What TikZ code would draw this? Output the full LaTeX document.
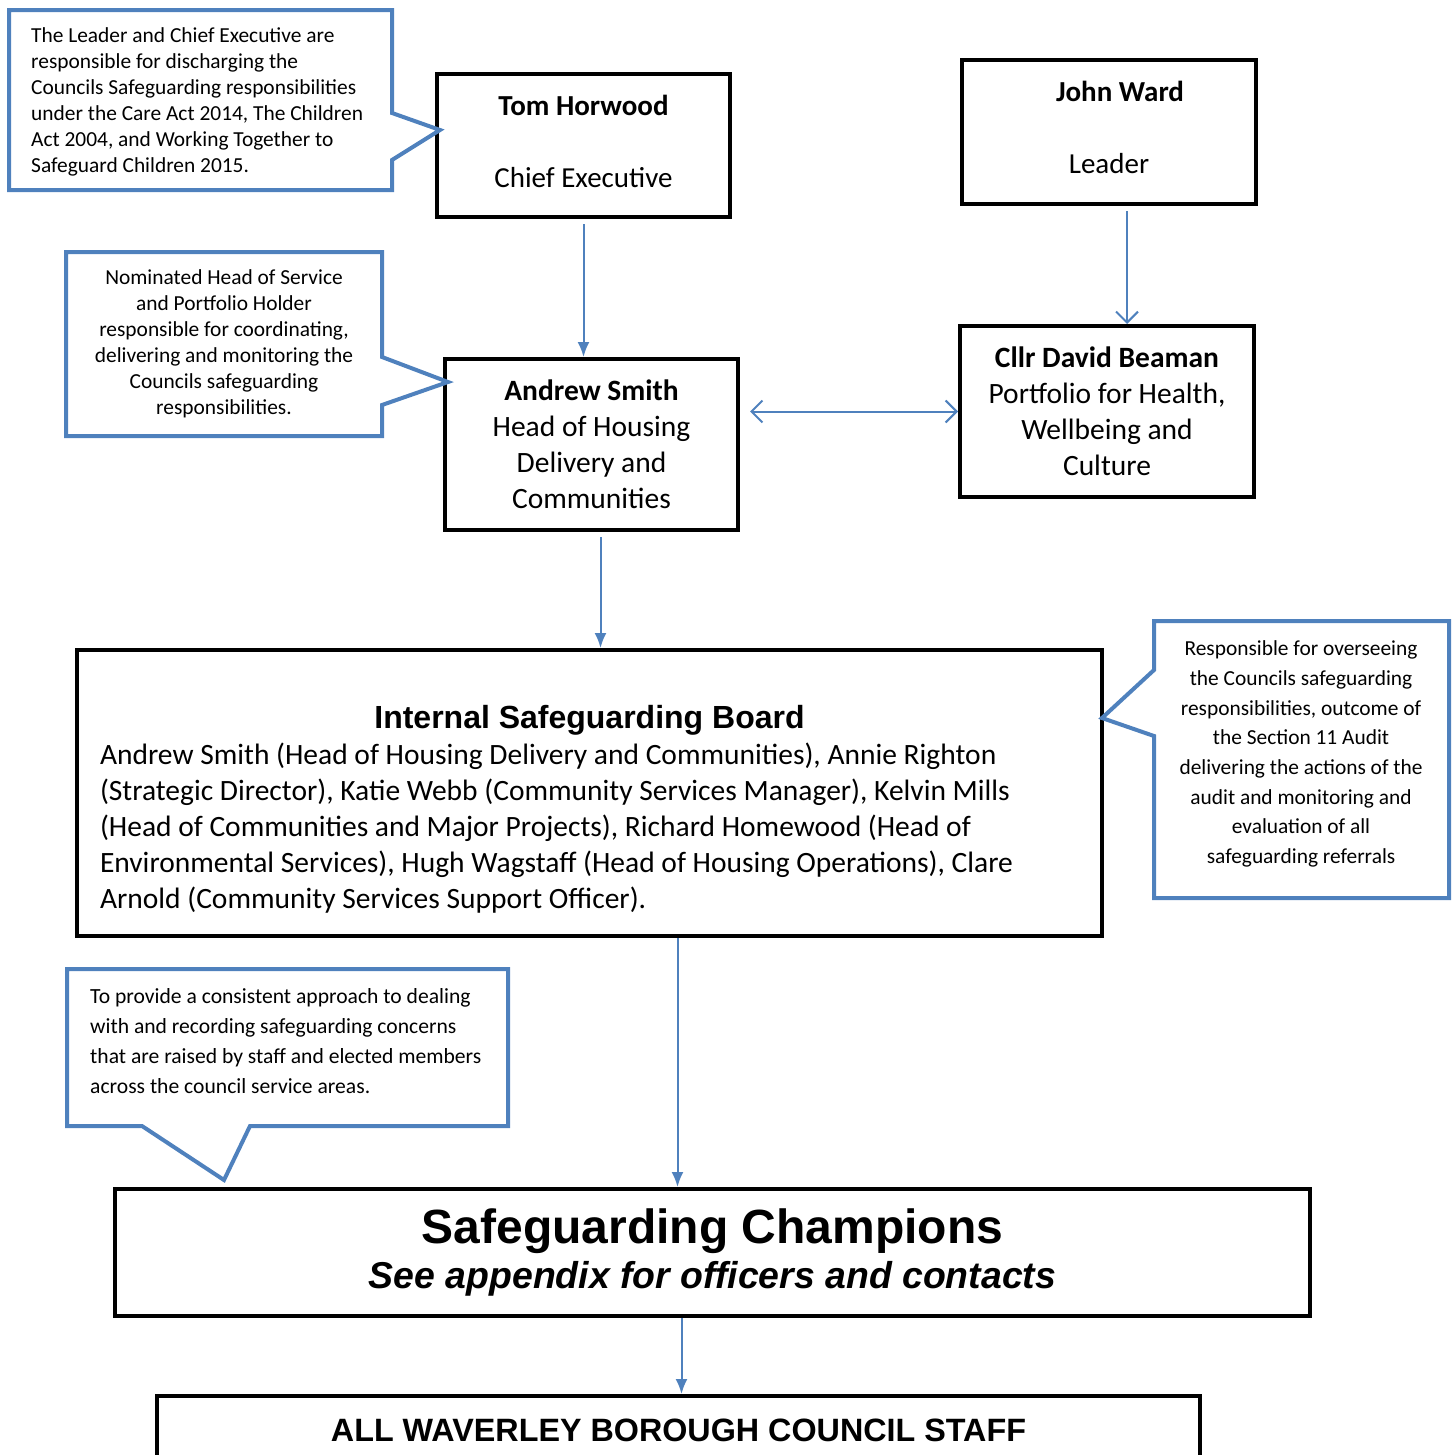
\documentclass[tikz,border=0pt]{standalone}
\usepackage{fontspec}
\setmainfont{Carlito}
\newfontfamily\arialfont{Liberation Sans}
\usetikzlibrary{arrows.meta, positioning, calc}
\definecolor{noteblue}{RGB}{79,129,189}
\tikzset{
  post/.style={draw=black, line width=4pt, inner sep=0pt, align=center},
  note/.style={draw=noteblue, line width=4pt, line join=miter},
  notetext/.style={inner sep=0pt, align=center, font=\fontsize{21.4}{26}\selectfont},
  flow/.style={draw=noteblue, line width=2pt, -{Latex[length=15pt,width=12pt]}},
  link/.style={draw=noteblue, line width=2pt, -{Straight Barb[length=11pt,width=22pt,line width=2pt]}}
}
\begin{document}
\begin{tikzpicture}[x=1pt,y=-1pt]
\useasboundingbox (0,0) rectangle (1456,1454);
\clip (0,0) rectangle (1456,1454);

% Posts
\node[post, minimum width=293, minimum height=143, font=\fontsize{29}{36}\selectfont] (tom) at (583.5,145.5)
  {\textbf{Tom Horwood}\\ \\Chief Executive\rule[-9pt]{0pt}{0pt}};
\node[post, minimum width=294, minimum height=144, font=\fontsize{29}{36}\selectfont] (ward) at (1109,132)
  {\hspace*{22pt}\textbf{John Ward}\\ \\Leader\rule[-9pt]{0pt}{0pt}};
\node[post, minimum width=293, minimum height=171, font=\fontsize{29.5}{36}\selectfont] (smith) at (591.5,444.5)
  {\textbf{Andrew Smith}\\Head of Housing\\Delivery and\\Communities};
\node[post, minimum width=294, minimum height=171, font=\fontsize{29.5}{36}\selectfont] (beaman) at (1107,411.5)
  {\textbf{Cllr David Beaman}\\Portfolio for Health,\\Wellbeing and\\Culture};
\node[post, minimum width=1025, minimum height=286, align=left, font=\fontsize{29.5}{35.8}\selectfont] (board) at (589.5,793)
  {\rule{0pt}{55pt}\makebox[979pt][c]{\arialfont\bfseries\fontsize{32}{36}\selectfont Internal Safeguarding Board}\\[1pt]
   Andrew Smith (Head of Housing Delivery and Communities), Annie Righton\\
   (Strategic Director), Katie Webb (Community Services Manager), Kelvin Mills\\
   (Head of Communities and Major Projects), Richard Homewood (Head of\\
   Environmental Services), Hugh Wagstaff (Head of Housing Operations), Clare\\
   Arnold (Community Services Support Officer).};
\node[post, minimum width=1195, minimum height=127, font=\arialfont\bfseries] (champions) at (712.5,1252.5)
  {{\fontsize{48}{52}\selectfont Safeguarding Champions}\\[7pt]
   {\fontsize{37.4}{44}\selectfont\itshape See appendix for officers and contacts}\rule[-4pt]{0pt}{0pt}};
\node[post, minimum width=1043, minimum height=100, anchor=north, font=\arialfont\bfseries\fontsize{32.3}{36}\selectfont] (staff) at (678.5,1394)
  {\raisebox{31pt}{ALL WAVERLEY BOROUGH COUNCIL STAFF}};

% Notes
\draw[note] (9,10) -- (392,10) -- (392,113) -- (440,130) -- (392,160) -- (392,190) -- (9,190) -- cycle;
\node[notetext, anchor=west, align=left] (leadnote) at (31,102)
  {The Leader and Chief Executive are\\responsible for discharging the\\Councils Safeguarding responsibilities\\under the Care Act 2014, The Children\\Act 2004, and Working Together to\\Safeguard Children 2015.};

\draw[note] (66,252) -- (382,252) -- (382,357) -- (448,382) -- (382,405) -- (382,436) -- (66,436) -- cycle;
\node[notetext] (headnote) at (224,344)
  {Nominated Head of Service\\and Portfolio Holder\\responsible for coordinating,\\delivering and monitoring the\\Councils safeguarding\\responsibilities.};

\draw[note] (1154,621) -- (1449,621) -- (1449,898) -- (1154,898) -- (1154,736) -- (1102,718) -- (1154,670) -- cycle;
\node[notetext, font=\fontsize{21.4}{29.7}\selectfont] (boardnote) at (1301,754)
  {Responsible for overseeing\\the Councils safeguarding\\responsibilities, outcome of\\the Section 11 Audit\\delivering the actions of the\\audit and monitoring and\\evaluation of all\\safeguarding referrals};

\draw[note] (67,969) -- (508,969) -- (508,1126) -- (250,1126) -- (224,1180) -- (142,1126) -- (67,1126) -- cycle;
\node[notetext, anchor=west, align=left, font=\fontsize{21.6}{30}\selectfont] (champnote) at (90,1041)
  {To provide a consistent approach to dealing\\with and recording safeguarding concerns\\that are raised by staff and elected members\\across the council service areas.};

% Connectors
\draw[flow, shorten <=5pt] (tom.south) -- (tom.south |- smith.north);
\draw[link, shorten <=5pt] ([xshift=18]ward.south) -- ([xshift=18]ward.south |- beaman.north);
\draw[link, {Straight Barb[length=11pt,width=22pt,line width=2pt]}-{Straight Barb[length=11pt,width=22pt,line width=2pt]}, shorten <=10pt] (beaman.west -| smith.east) -- (beaman.west);
\draw[flow, shorten <=5pt] ([xshift=9]smith.south) -- ([xshift=9]smith.south |- board.north);
\draw[flow] ([xshift=88]board.south) -- ([xshift=88]board.south |- champions.north);
\draw[flow] ([xshift=3]staff.north |- champions.south) -- ([xshift=3]staff.north);
\end{tikzpicture}
\end{document}
